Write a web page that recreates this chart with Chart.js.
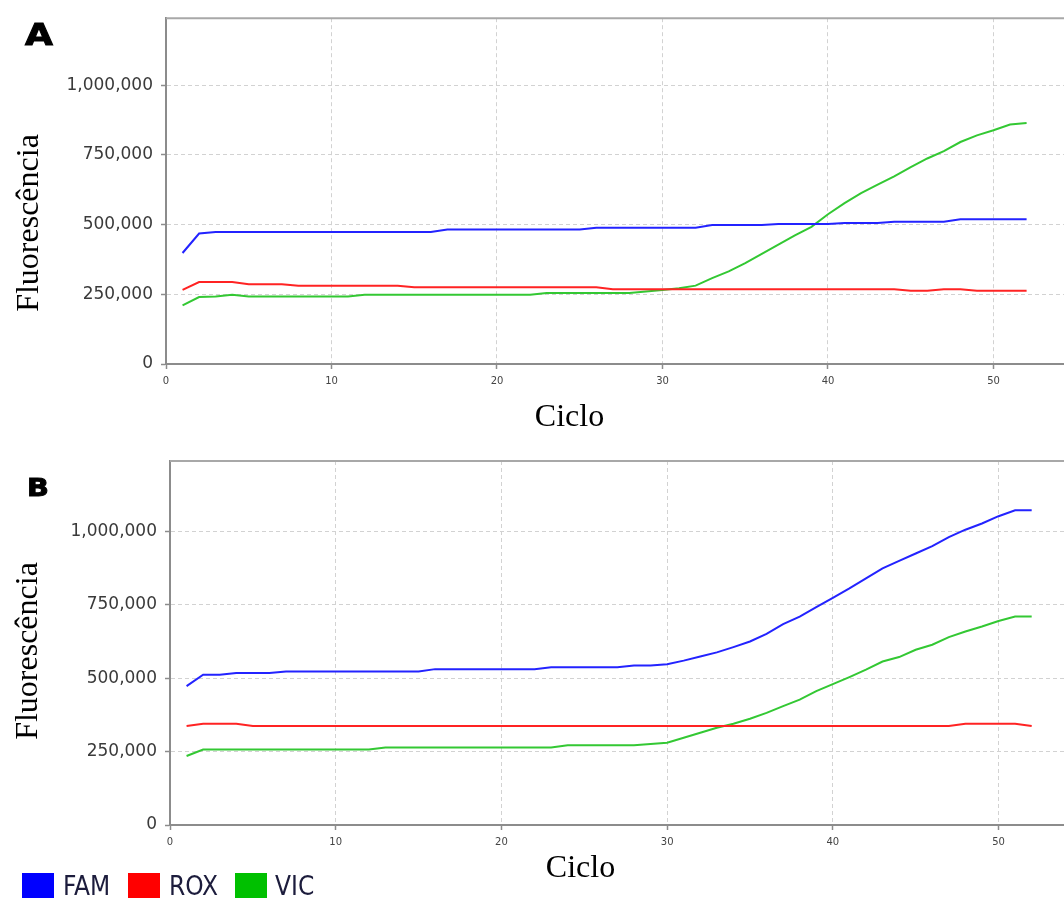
<!DOCTYPE html>
<html>
<head>
<meta charset="utf-8">
<script src="https://cdn.jsdelivr.net/npm/chart.js@4/dist/chart.umd.min.js"></script>
<style>
  body { margin: 0; background: #fff; }
  #wrap { position: relative; width: 1064px; height: 898px; overflow: hidden; background: #fff; }
  canvas { position: absolute; left: 0; }
  .panel { position: absolute; font-family: "DejaVu Sans", sans-serif; font-weight: bold; color: #000; transform-origin: left top; -webkit-text-stroke: 1px #000; }
  .title { position: absolute; font-family: "Liberation Serif", "Times New Roman", serif; font-size: 32px; line-height: 32px; color: #000; white-space: nowrap; }
  .key { position: absolute; width: 32px; height: 26px; top: 873px; }
  .keytxt { position: absolute; top: 873px; font-family: "Liberation Sans Narrow", "DejaVu Sans Condensed", sans-serif; font-size: 26px; line-height: 27px; color: #1c1c3c; }
</style>
</head>
<body>
<div id="wrap">
  <canvas id="chartA" width="1064" height="440" style="top:0"></canvas>
  <canvas id="chartB" width="1064" height="458" style="top:440px"></canvas>

  <div class="panel" style="left:25px;top:20px;font-size:30px;line-height:30px;transform:scaleX(1.2)">A</div>
  <div class="panel" style="left:27px;top:475px;font-size:25px;line-height:25px;transform:scaleX(1.15)">B</div>

  <div class="title" style="left:26.5px;top:223px;transform:translate(-50%,-50%) rotate(-90deg)">Fluorescência</div>
  <div class="title" style="left:569.5px;top:415px;transform:translate(-50%,-50%)">Ciclo</div>
  <div class="title" style="left:26px;top:651px;transform:translate(-50%,-50%) rotate(-90deg)">Fluorescência</div>
  <div class="title" style="left:580.5px;top:866px;transform:translate(-50%,-50%)">Ciclo</div>

  <div class="key" style="left:22px;background:#0000ff"></div>
  <div class="keytxt" style="left:63px">FAM</div>
  <div class="key" style="left:128px;background:#ff0000"></div>
  <div class="keytxt" style="left:169px">ROX</div>
  <div class="key" style="left:235px;background:#00c000"></div>
  <div class="keytxt" style="left:275px">VIC</div>
</div>

<script>
// cycle numbers shared by both panels
const cycles = [1, 2, 3, 4, 5, 6, 7, 8, 9, 10, 11, 12, 13, 14, 15, 16, 17, 18, 19, 20,
  21, 22, 23, 24, 25, 26, 27, 28, 29, 30, 31, 32, 33, 34, 35, 36, 37, 38, 39, 40,
  41, 42, 43, 44, 45, 46, 47, 48, 49, 50, 51, 52];

// tick values
const xTicks = [0, 10, 20, 30, 40, 50];
const yTicks = [0, 250000, 500000, 750000, 1000000];

// panel A
const famA = [398000, 468000, 473000, 473000, 473000, 473000, 473000, 473000, 473000, 473000,
  473000, 473000, 473000, 473000, 473000, 473000, 482000, 482000, 482000, 482000,
  482000, 482000, 482000, 482000, 482000, 489000, 489000, 489000, 489000, 489000,
  489000, 489000, 498000, 498000, 498000, 498000, 502000, 502000, 502000, 502000,
  506000, 506000, 506000, 510000, 510000, 510000, 510000, 519000, 519000, 519000,
  519000, 519000];
const roxA = [266000, 294000, 294000, 294000, 286000, 286000, 286000, 281000, 281000, 281000,
  281000, 281000, 281000, 281000, 275000, 275000, 275000, 275000, 275000, 275000,
  275000, 275000, 275000, 275000, 275000, 275000, 268000, 268000, 268000, 268000,
  268000, 268000, 268000, 268000, 268000, 268000, 268000, 268000, 268000, 268000,
  268000, 268000, 268000, 268000, 263000, 263000, 268000, 268000, 263000, 263000,
  263000, 263000];
const vicA = [210000, 240000, 242000, 248000, 242000, 242000, 242000, 242000, 242000, 242000,
  242000, 248000, 248000, 248000, 248000, 248000, 248000, 248000, 248000, 248000,
  248000, 248000, 255000, 255000, 255000, 255000, 255000, 255000, 260000, 265000,
  272000, 281000, 308000, 332000, 362000, 395000, 428000, 461000, 492000, 537000,
  577000, 613000, 643000, 673000, 706000, 737000, 763000, 796000, 820000, 838000,
  859000, 864000];

// panel B
const famB = [473000, 512000, 512000, 518000, 518000, 518000, 523000, 523000, 523000, 523000,
  523000, 523000, 523000, 523000, 523000, 531000, 531000, 531000, 531000, 531000,
  531000, 531000, 537000, 537000, 537000, 537000, 537000, 543000, 543000, 548000,
  560000, 574000, 588000, 606000, 625000, 651000, 684000, 710000, 742000, 774000,
  806000, 840000, 874000, 900000, 925000, 950000, 981000, 1006000, 1027000, 1052000,
  1072000, 1072000];
const roxB = [337000, 345000, 345000, 345000, 337000, 337000, 337000, 337000, 337000, 337000,
  337000, 337000, 337000, 337000, 337000, 337000, 337000, 337000, 337000, 337000,
  337000, 337000, 337000, 337000, 337000, 337000, 337000, 337000, 337000, 337000,
  337000, 337000, 337000, 337000, 337000, 337000, 337000, 337000, 337000, 337000,
  337000, 337000, 337000, 337000, 337000, 337000, 337000, 345000, 345000, 345000,
  345000, 337000];
const vicB = [235000, 257000, 257000, 257000, 257000, 257000, 257000, 257000, 257000, 257000,
  257000, 257000, 264000, 264000, 264000, 264000, 264000, 264000, 264000, 264000,
  264000, 264000, 264000, 272000, 272000, 272000, 272000, 272000, 276000, 280000,
  297000, 314000, 331000, 345000, 362000, 382000, 405000, 427000, 456000, 480000,
  504000, 529000, 557000, 572000, 597000, 614000, 640000, 659000, 676000, 695000,
  710000, 710000];

const yMax = 1240000;

const axisGray = '#8c8c8c';

// replace the generated ticks with the fixed list
function useTicks(list) {
  return function (scale) {
    scale.ticks = list.map(v => ({ value: v }));
  };
}

// thin frame line along the top of the plot area
const topFrame = {
  id: 'topFrame',
  afterDraw(chart) {
    let ctx = chart.ctx;
    let a = chart.chartArea;
    ctx.save();
    ctx.strokeStyle = '#a8a8a8';
    ctx.lineWidth = 2;
    ctx.beginPath();
    ctx.moveTo(a.left, a.top);
    ctx.lineTo(a.right, a.top);
    ctx.stroke();
    ctx.restore();
  }
};

function buildChart(id, fam, rox, vic, geo) {
  let series = [
    ['FAM', fam, '#2323ff'],
    ['ROX', rox, '#ff2323'],
    ['VIC', vic, '#33c833']
  ];
  let datasets = series.map(([label, vals, color]) => ({
    label: label,
    data: vals.map((v, i) => ({ x: cycles[i], y: v })),
    borderColor: color,
    backgroundColor: color,
    borderWidth: 2,
    pointRadius: 0,
    tension: 0,
    fill: false
  }));

  return new Chart(document.getElementById(id), {
    type: 'line',
    data: { datasets: datasets },
    options: {
      responsive: false,
      animation: false,
      layout: { padding: { top: geo.top, left: 0, right: 0, bottom: 0 } },
      plugins: { legend: { display: false }, tooltip: { enabled: false } },
      scales: {
        x: {
          type: 'linear',
          min: 0,
          max: geo.xMax,
          afterBuildTicks: useTicks(xTicks),
          afterFit: s => { s.height = geo.xHeight; },
          ticks: {
            autoSkip: false,
            maxRotation: 0,
            color: '#444',
            padding: 6,
            font: { family: 'DejaVu Sans', size: 10 }
          },
          grid: { color: '#d2d2d2', lineWidth: 1, tickColor: axisGray, tickLength: 5, tickWidth: 1.5 },
          border: { color: axisGray, width: 2, dash: [4, 3] }
        },
        y: {
          min: 0,
          max: yMax,
          afterBuildTicks: useTicks(yTicks),
          afterFit: s => { s.width = geo.yWidth; },
          ticks: {
            autoSkip: false,
            color: '#3a3a3a',
            padding: 8,
            font: { family: 'DejaVu Sans', size: 17 },
            callback: v => v.toLocaleString('en-US')
          },
          grid: { color: '#d2d2d2', lineWidth: 1, tickColor: axisGray, tickLength: 5, tickWidth: 1.5 },
          border: { color: axisGray, width: 2, dash: [4, 3] }
        }
      }
    },
    plugins: [topFrame]
  });
}

buildChart('chartA', famA, roxA, vicA, { top: 16, xHeight: 76, yWidth: 166, xMax: 54.26 });
buildChart('chartB', famB, roxB, vicB, { top: 21, xHeight: 73, yWidth: 170, xMax: 53.95 });
</script>
</body>
</html>
